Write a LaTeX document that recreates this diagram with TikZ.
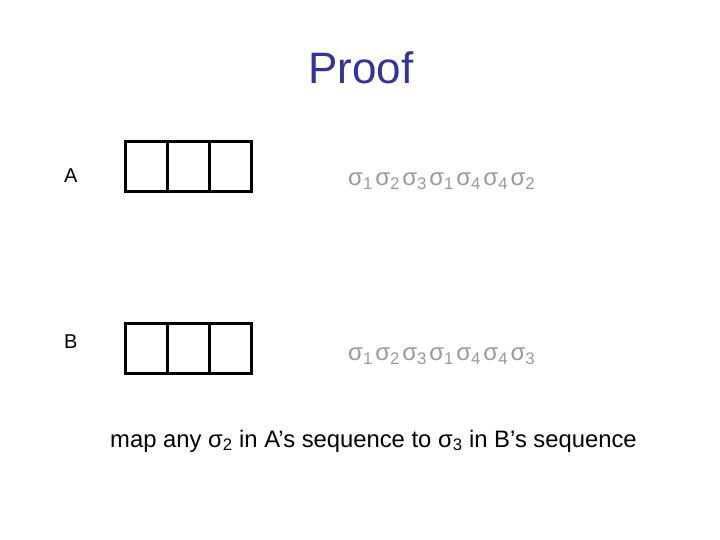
\documentclass[tikz,border=0pt]{standalone}
\usepackage{fontspec}
\setmainfont{Liberation Sans}
\definecolor{titleblue}{HTML}{333399}
\definecolor{siggrey}{HTML}{999999}
\newcommand{\sg}[1]{σ\textsubscript{#1}}
\newcommand{\sgs}[1]{σ\textsubscript{#1}\hspace{2.4pt}}
\begin{document}
\begin{tikzpicture}[x=1pt,y=-1pt,
  cellbox/.style={draw=black,line width=3pt,minimum width=42pt,minimum height=50pt,inner sep=0pt},
  lbl/.style={anchor=west,font=\fontsize{20}{24}\selectfont,inner sep=0pt},
  seq/.style={anchor=west,text=siggrey,font=\fontsize{24}{28}\selectfont,inner sep=0pt}]
\useasboundingbox (0,0) rectangle (720,540);
\node[text=titleblue,font=\fontsize{44}{50}\selectfont] (title) at (361,68) {Proof};
\node[lbl] (la) at (64,176) {A};
\node[lbl] (lb) at (64,342) {B};
\node[cellbox] (a1) at (146,167) {};
\node[cellbox] (a2) at (188,167) {};
\node[cellbox] (a3) at (230,167) {};
\node[cellbox] (b1) at (146,348) {};
\node[cellbox] (b2) at (188,348) {};
\node[cellbox] (b3) at (230,348) {};
\node[seq] (sa) at (348,181) {\sgs1\sgs2\sgs3\sgs1\sgs4\sgs4\sg2};
\node[seq] (sb) at (348,356) {\sgs1\sgs2\sgs3\sgs1\sgs4\sgs4\sg3};
\node[anchor=west,font=\fontsize{23.8}{28}\selectfont,inner sep=0pt] (note) at (110,441) {map any \sg2 in A’s sequence to \sg3 in B’s sequence};
\end{tikzpicture}
\end{document}
